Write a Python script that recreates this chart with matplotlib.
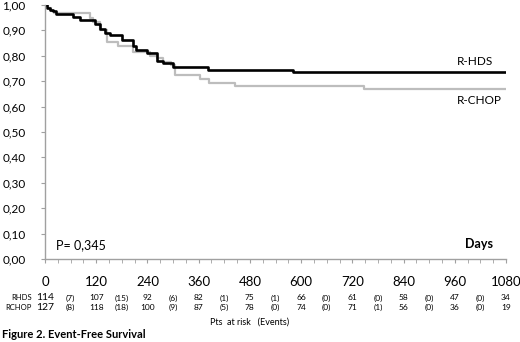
import numpy as np
import matplotlib
matplotlib.use("Agg")
import matplotlib.pyplot as plt
from matplotlib.transforms import blended_transform_factory

plt.rcParams['font.family'] = ['Lato', 'DejaVu Sans']

# Kaplan-Meier steps (days, survival)
hds_days = [0, 5, 12, 18, 25, 66, 82, 117, 128, 140, 152, 180, 206, 214, 239, 262, 276, 300, 382, 581, 1080]
hds_surv = [1.0, 0.99, 0.98, 0.975, 0.966, 0.954, 0.94, 0.925, 0.905, 0.89, 0.88, 0.862, 0.84, 0.822, 0.81, 0.78, 0.77, 0.756, 0.746, 0.735, 0.735]

chop_days = [0, 6, 14, 22, 105, 112, 129, 145, 171, 206, 246, 262, 276, 296, 305, 363, 385, 445, 747, 1080]
chop_surv = [1.0, 0.99, 0.978, 0.967, 0.95, 0.935, 0.9, 0.855, 0.84, 0.815, 0.80, 0.79, 0.775, 0.765, 0.723, 0.707, 0.693, 0.68, 0.669, 0.669]

# patients at risk (every 120 days) and events (between)
risk_days = list(range(0, 1081, 60))
risk_hds = ["114", "(7)", "107", "(15)", "92", "(6)", "82", "(1)", "75", "(1)",
            "66", "(0)", "61", "(0)", "58", "(0)", "47", "(0)", "34"]
risk_chop = ["127", "(8)", "118", "(18)", "100", "(9)", "87", "(5)", "78", "(0)",
             "74", "(0)", "71", "(1)", "56", "(0)", "36", "(0)", "19"]

y_ticks = np.arange(0, 1.01, 0.1)

fig = plt.figure(figsize=(5.2, 3.42), dpi=100)
ax = fig.add_axes([45/520, 1 - 259/342, 461/520, 254/342])

ax.step(chop_days, chop_surv, where='post', color='#bdbdbd', lw=1.6)
ax.step(hds_days, hds_surv, where='post', color='black', lw=1.9)

ax.set_xlim(0, 1080)
ax.set_ylim(0, 1.0)
ax.set_xticks(np.arange(0, 1081, 120))
ax.set_xticks(np.arange(0, 1081, 30), minor=True)
ax.set_yticks(y_ticks)
ax.set_yticklabels([("%.2f" % v).replace('.', ',') for v in y_ticks])
ax.tick_params(axis='y', length=3, color='#a0a0a0', pad=11, labelsize=8.5)
ax.tick_params(axis='x', which='both', length=3, color='#a0a0a0', pad=9, labelsize=9.5)

for s in ['top', 'right']:
    ax.spines[s].set_visible(False)
for s in ['left', 'bottom']:
    ax.spines[s].set_color('#a0a0a0')
    ax.spines[s].set_linewidth(1)

ax.text(965, 0.755, "R-HDS", fontsize=8.5, ha='left', va='bottom')
ax.text(965, 0.645, "R-CHOP", fontsize=8.5, ha='left', va='top')
ax.text(25, 0.03, "P= 0,345", fontsize=9, ha='left', va='bottom')
ax.text(1050, 0.035, "Days", fontsize=9, fontweight='bold', ha='right', va='bottom')

tr = blended_transform_factory(ax.transData, fig.transFigure)
y1 = 1 - 298/342
y2 = 1 - 307/342
fig.text(32/520, y1, "RHDS", fontsize=5.5, ha='right', va='center')
fig.text(32/520, y2, "RCHOP", fontsize=5.5, ha='right', va='center')
for i, d in enumerate(risk_days):
    fs = 7.5 if i == 0 else 6
    ax.text(d, y1, risk_hds[i], fontsize=fs, ha='center', va='center', transform=tr)
    ax.text(d, y2, risk_chop[i], fontsize=fs, ha='center', va='center', transform=tr)

fig.text(250/520, 1 - 322/342, "Pts  at risk   (Events)", fontsize=6.5, ha='center', va='center')
fig.text(2/520, 1 - 334/342, "Figure 2. Event-Free Survival", fontsize=8, fontweight='bold',
         ha='left', va='center')

fig.savefig("out.png", dpi=100)
